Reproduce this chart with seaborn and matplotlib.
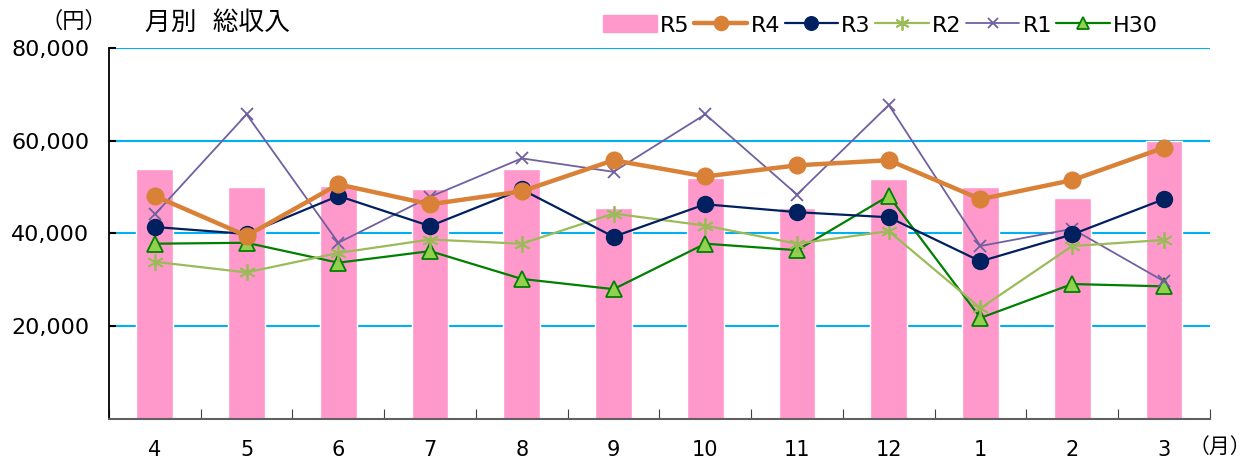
import numpy as np
import pandas as pd
import seaborn as sns
import matplotlib.pyplot as plt
from matplotlib.lines import Line2D
from matplotlib.patches import Patch

months = ['4', '5', '6', '7', '8', '9', '10', '11', '12', '1', '2', '3']
r5 = [54000, 50100, 50200, 49500, 53800, 45400, 52000, 45500, 51700, 50100, 47600, 60000]
r4 = [48100, 39500, 50600, 46300, 49100, 55800, 52300, 54700, 55800, 47400, 51500, 58500]
r3 = [41400, 39900, 48100, 41600, 49500, 39300, 46300, 44600, 43500, 34000, 39800, 47400]
r2 = [33900, 31600, 35800, 38700, 37800, 44300, 41700, 37800, 40500, 23900, 37300, 38600]
r1 = [44100, 65700, 38000, 47900, 56200, 53300, 65700, 48400, 67700, 37300, 41000, 29700]
h30 = [37800, 38000, 33700, 36200, 30200, 28000, 37800, 36400, 48100, 21800, 29100, 28600]

df = pd.DataFrame({'month': months, 'R5': r5, 'R4': r4, 'R3': r3,
                   'R2': r2, 'R1': r1, 'H30': h30})

sns.set_theme(style='white')
plt.rcParams['font.family'] = ['DejaVu Sans', 'Noto Sans CJK JP']
plt.rcParams['text.color'] = 'black'
plt.rcParams['xtick.labelcolor'] = 'black'
plt.rcParams['ytick.labelcolor'] = 'black'

fig = plt.figure(figsize=(12.51, 4.62), dpi=100)
ax = fig.add_axes([0.0871, 0.0931, 0.8800, 0.8030])

# grid first
for v in [20000, 40000, 60000, 80000]:
    ax.axhline(v, color='#00B0F0', lw=1.5, zorder=0)

sns.barplot(data=df, x='month', y='R5', order=months, color='#FF99CC',
            saturation=1, width=0.4, ax=ax, zorder=1)

styles = {
    'R4': dict(color='#DA8138', marker='o', lw=3.2, ms=12, mfc='#DA8138', mec='#DA8138'),
    'R3': dict(color='#002060', marker='o', lw=1.6, ms=11.5, mfc='#002060', mec='#002060'),
    'R2': dict(color='#9BBB59', marker=(6, 2, 0), lw=1.6, ms=12, mfc='#9BBB59', mec='#9BBB59', mew=1.3),
    'R1': dict(color='#7060A0', marker='x', lw=1.3, ms=9, mfc='#7060A0', mec='#7060A0', mew=1.3),
    'H30': dict(color='#008000', marker='^', lw=1.6, ms=11, mfc='#92D050', mec='#008000', mew=1.3),
}

for name in ['H30', 'R1', 'R2', 'R3', 'R4']:
    s = styles[name]
    sns.pointplot(data=df, x='month', y=name, order=months, color=s['color'],
                  markers=s['marker'], errorbar=None, ax=ax,
                  linewidth=s['lw'], markersize=s['ms'],
                  markerfacecolor=s['mfc'], markeredgecolor=s['mec'],
                  markeredgewidth=s.get('mew', 1.0), zorder=3)

ax.set_xlim(-0.5, 11.5)
ax.set_ylim(0, 80000)
ax.set_yticks([20000, 40000, 60000, 80000])
ax.set_yticklabels(['20,000', '40,000', '60,000', '80,000'], fontsize=16)
ax.set_xlabel('')
ax.set_ylabel('')
ax.tick_params(axis='x', length=0, pad=15, labelsize=15)
ax.tick_params(axis='y', direction='in', length=5, width=1.5, color='black', pad=14, left=True)
ax.set_xticks(np.arange(-0.5, 12, 1), minor=True)
ax.tick_params(axis='x', which='minor', direction='in', length=7, width=0.8, color='#404040', bottom=True)

for sp in ['top', 'right']:
    ax.spines[sp].set_visible(False)
ax.spines['left'].set_color('black')
ax.spines['left'].set_linewidth(1.3)
ax.spines['bottom'].set_color('#606060')
ax.spines['bottom'].set_linewidth(1.5)

fig.text(0.059, 0.955, '（円）', fontsize=16, ha='center', va='center')
fig.text(0.116, 0.950, '月別  総収入', fontsize=18.5, ha='left', va='center')
fig.text(1.0, 0.033, '（月）', fontsize=15, ha='right', va='center')

handles = [Patch(color='#FF99CC', label='R5')]
for name in ['R4', 'R3', 'R2', 'R1', 'H30']:
    s = styles[name]
    handles.append(Line2D([0], [0], color=s['color'], marker=s['marker'], lw=s['lw'],
                          ms=s['ms'] * 0.85, mfc=s['mfc'], mec=s['mec'],
                          mew=s.get('mew', 1.0), label=name))
fig.legend(handles=handles, loc='center', bbox_to_anchor=(0.704, 0.945), ncol=6,
           frameon=False, fontsize=16, handlelength=2.4, handletextpad=0.15,
           columnspacing=0.2, handleheight=0.8)

fig.savefig('out.png', dpi=100)
